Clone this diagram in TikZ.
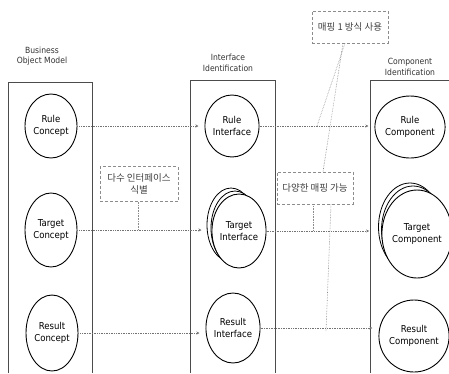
\documentclass[tikz,border=0pt]{standalone}
\usepackage{fontspec}
\setmainfont{DejaVu Sans Condensed}
\newfontfamily\kr{Noto Sans CJK KR}
\usetikzlibrary{shapes.geometric,arrows.meta}
\begin{document}
\begin{tikzpicture}[x=1pt,y=-1pt,
  colbox/.style={draw=black!70,line width=1pt},
  concept/.style={draw=black,line width=0.9pt,ellipse,fill=white,inner sep=0pt,align=center,font=\fontsize{9.5}{11.5}\selectfont},
  ghost/.style={draw=black,line width=0.8pt,ellipse,fill=white,inner sep=0pt},
  title/.style={align=center,font=\fontsize{8.5}{10.5}\selectfont,text=black!80},
  link/.style={draw=black!55,densely dotted,line width=0.7pt,-{Stealth[length=3pt,width=3pt]}},
  note/.style={draw=black!45,densely dashed,line width=0.6pt,align=center,font=\kr\fontsize{9.5}{12}\selectfont,text=black!75,inner sep=2pt},
  pointer/.style={draw=black!45,densely dotted,line width=0.6pt}]
\useasboundingbox (0,0) rectangle (449,373);
% column boxes
\draw[colbox] (8,373) -- (8,82) -- (92,82) -- (92,373);
\draw[colbox] (190,373) -- (190,80) -- (275,80) -- (275,373);
\draw[colbox] (370,373) -- (370,80) -- (449,80);
% titles
\node[title] (t1) at (42,56) {Business\\Object Model};
\node[title] (t2) at (228,63) {Interface\\Identification};
\node[title] (t3) at (410,67) {Component\\Identification};
% column 1
\node[concept,minimum width=52,minimum height=64] (rc) at (51,126) {Rule\\Concept};
\node[concept,minimum width=52,minimum height=74] (tc) at (51,230) {Target\\Concept};
\node[concept,minimum width=52,minimum height=76] (sc) at (52,333) {Result\\Concept};
% column 2
\node[concept,minimum width=53,minimum height=62] (ri) at (232,126) {Rule\\Interface};
\node[ghost,minimum width=48,minimum height=74] (ti2) at (231,225) {};
\node[ghost,minimum width=48,minimum height=74] (ti1) at (235,228) {};
\node[concept,minimum width=48,minimum height=74] (ti) at (239,231) {Target\\Interface};
\node[concept,minimum width=50,minimum height=70] (si) at (233,328) {Result\\Interface};
% column 3
\node[concept,minimum width=60,minimum height=62] (rp) at (410,127) {Rule\\Component};
\node[ghost,minimum width=63,minimum height=88] (tp2) at (410,227) {};
\node[ghost,minimum width=63,minimum height=88] (tp1) at (413,230) {};
\node[concept,minimum width=63,minimum height=88] (tp) at (417,234) {Target\\Component};
\node[concept,minimum width=62,minimum height=72] (sp) at (414,336) {Result\\Component};
% links
\draw[link] (rc.east) -- ([xshift=-6pt]ri.west |- rc.east);
\draw[link] (tc.east) -- ([xshift=-10pt]ti.west |- tc.east);
\draw[link] (sc.east) -- ([xshift=-6pt]si.west |- sc.east);
\draw[link] (ri.east) -- ([xshift=-6pt]rp.west |- ri.east);
\draw[link] (ti.east) -- ([xshift=-9pt]tp2.west |- ti.east);
\draw[link] (si.east) -- ([xshift=-6pt]sp.west |- si.east);
% notes
\node[note,minimum width=78,minimum height=35] (n1) at (139,184) {다수 인터페이스\\식별};
\node[note,minimum width=76,minimum height=32] (n2) at (315,188) {다양한 매핑 가능};
\node[note,minimum width=76,minimum height=32] (n3) at (350,27) {매핑 1 방식 사용};
\coordinate (p1) at (138,230);
\coordinate (p2) at (313,231);
\coordinate (p3) at (326,331);
\coordinate (p4) at (317,126);
\draw[pointer] (n1.south -| p1) -- (p1);
\draw[pointer] ([xshift=-2pt]n2.south) -- (p2);
\draw[pointer] ([xshift=16pt]n2.south) -- (p3);
\draw[pointer] ([xshift=-5pt]n3.south) -- (p4);
\draw[pointer] ([xshift=-7pt]n3.south) -- ([xshift=8pt]n2.north);
\end{tikzpicture}
\end{document}
